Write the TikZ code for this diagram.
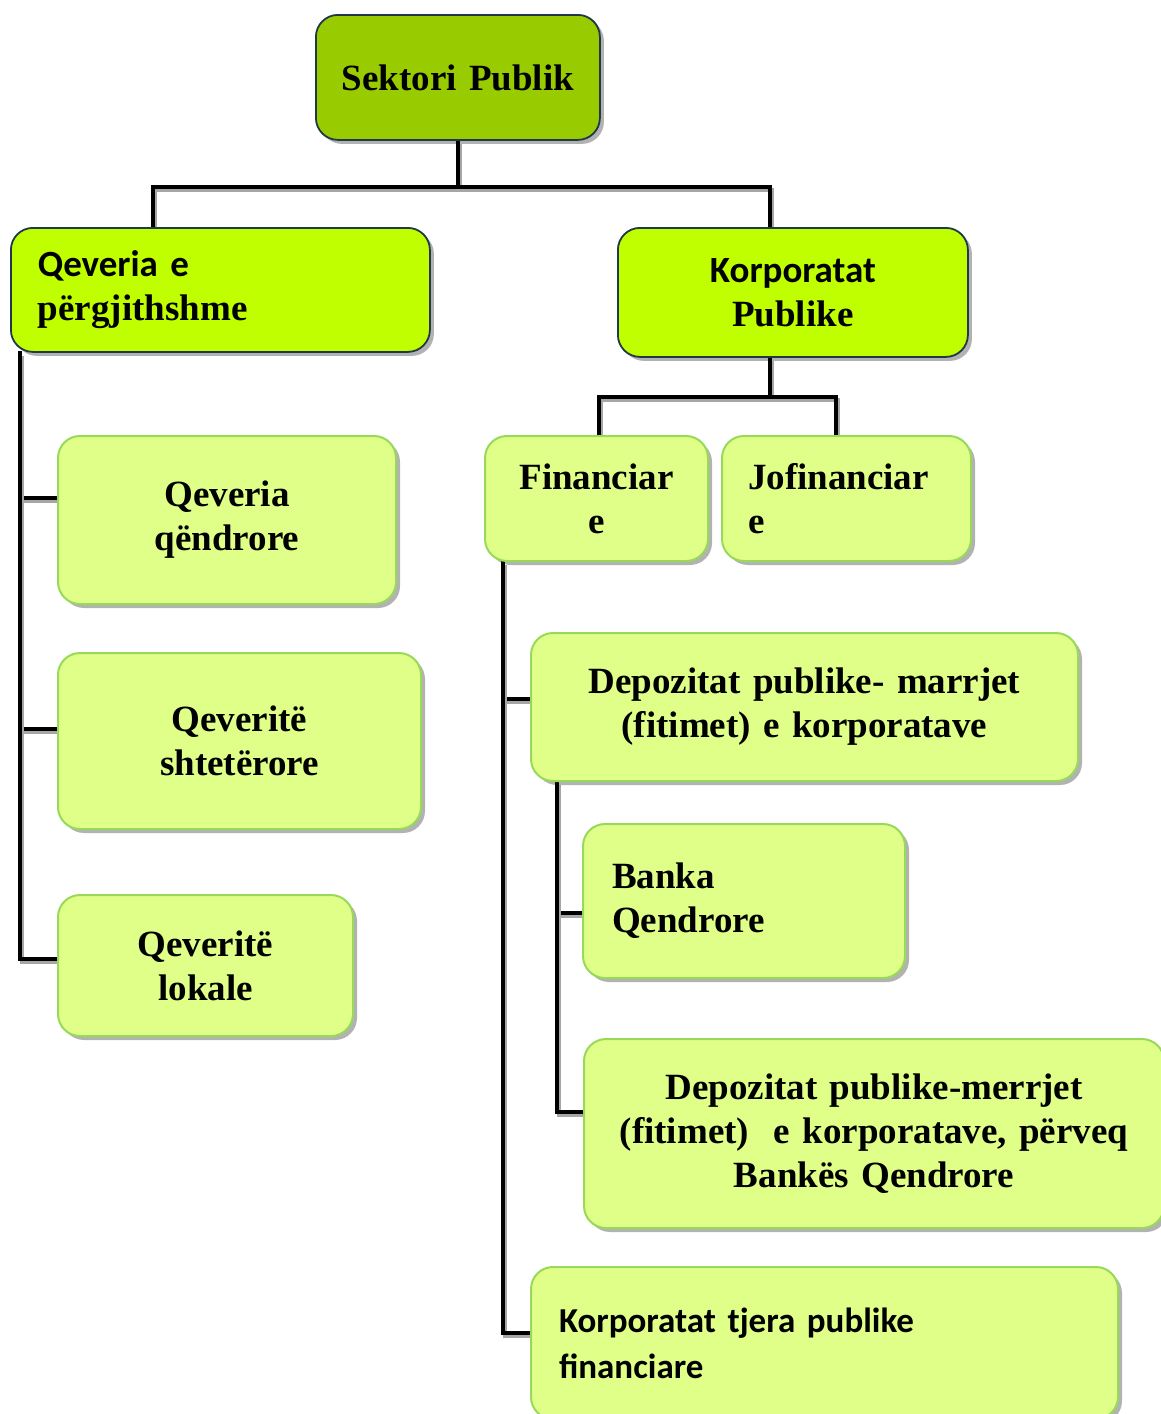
\documentclass[tikz,border=0pt]{standalone}
\usepackage{fontspec}
\setmainfont[WordSpace=0.7]{Liberation Serif}
\newfontfamily\calfont[WordSpace=0.7]{Carlito}
\usetikzlibrary{shadows,backgrounds,calc}
\definecolor{dkgreen}{HTML}{99CC00}
\definecolor{brgreen}{HTML}{BFFF00}
\definecolor{ltgreen}{HTML}{E0FF88}
\definecolor{ltborder}{HTML}{99D95A}
\definecolor{dkborder}{HTML}{203848}
\tikzset{
  basebox/.style={rectangle, rounded corners=22pt, anchor=north west, inner ysep=0pt,
    font=\fontsize{37}{44}\selectfont\bfseries,
    drop shadow={shadow xshift=4pt, shadow yshift=-4pt, fill=black, opacity=0.3}},
  dkbox/.style={basebox, fill=dkgreen, draw=dkborder, line width=1.8pt},
  brbox/.style={basebox, fill=brgreen, draw=dkborder, line width=1.8pt},
  ltbox/.style={basebox, fill=ltgreen, draw=ltborder, line width=2pt},
  ctr/.style={align=center, inner xsep=0pt},
  lft/.style={align=left},
  conn/.style={line width=3.5pt, black, line cap=rect,
    preaction={draw=black!35, line width=3.5pt, transform canvas={xshift=2pt, yshift=-3pt}}}
}
\begin{document}
\begin{tikzpicture}[x=1pt,y=-1pt]
\useasboundingbox (0,0) rectangle (1160,1414);
% nodes
\node[dkbox, ctr, text width=284pt, minimum height=125pt] (sp) at (315,14) {Sektori Publik};
\node[brbox, lft, inner xsep=27pt, text width=365pt, minimum height=124pt] (qp) at (10,227)
  {{\calfont Qeveria e}\\përgjithshme};
\node[brbox, ctr, text width=350pt, minimum height=129pt] (kp) at (617,227)
  {{\calfont Korporatat}\\Publike};
\node[ltbox, ctr, text width=338pt, minimum height=168pt] (qq) at (57,435) {Qeveria\\qëndrore};
\node[ltbox, ctr, text width=363pt, minimum height=176pt] (qs) at (57,652) {Qeveritë\\shtetërore};
\node[ltbox, ctr, text width=295pt, minimum height=141pt] (ql) at (57,894) {Qeveritë\\lokale};
\node[ltbox, ctr, text width=223pt, minimum height=125pt] (fi) at (484,435) {Financiar\\e};
\node[ltbox, lft, inner xsep=26pt, text width=197pt, minimum height=125pt] (jo) at (721,435) {Jofinanciar\\e};
\node[ltbox, ctr, text width=547pt, minimum height=148pt] (de1) at (530,632)
  {Depozitat publike- marrjet\\(fitimet) e korporatave};
\node[ltbox, lft, inner xsep=29pt, text width=264pt, minimum height=154pt] (bq) at (582,823) {Banka\\Qendrore};
\node[ltbox, ctr, text width=580pt, minimum height=189pt] (de2) at (583,1038)
  {Depozitat publike-merrjet\\(fitimet)\ \ e korporatave, përveq\\Bankës Qendrore};
\node[ltbox, lft, inner xsep=28pt, text width=531pt, minimum height=152pt,
  font=\fontsize{35}{46}\selectfont\bfseries\calfont] (kt) at (530,1266)
  {Korporatat tjera publike\\financiare};
% connectors
\begin{pgfonlayer}{background}
\draw[conn] (sp.south) -- ++(0,46) coordinate (j1);
\draw[conn] ([xshift=-67.5pt]qp.north) |- (j1) -| ([xshift=-23pt]kp.north);
\draw[conn] ([xshift=-23pt]kp.south) -- ++(0,39) coordinate (j2);
\draw[conn] ([xshift=2.5pt]fi.north) |- (j2) -| ([xshift=-10.5pt]jo.north);
\draw[conn] ([xshift=10pt]qp.south west) |- ([yshift=22pt]qq.west);
\draw[conn] ([xshift=10pt]qp.south west) |- ([yshift=12pt]qs.west);
\draw[conn] ([xshift=10pt]qp.south west) |- ([yshift=6.5pt]ql.west);
\draw[conn] ([xshift=19pt]fi.south west) |- ([yshift=8pt]de1.west);
\draw[conn] ([xshift=19pt]fi.south west) |- ([yshift=10pt]kt.west);
\draw[conn] ([xshift=27pt]de1.south west) |- ([yshift=-12pt]bq.west);
\draw[conn] ([xshift=27pt]de1.south west) |- ([yshift=21.5pt]de2.west);
\end{pgfonlayer}
\end{tikzpicture}
\end{document}
